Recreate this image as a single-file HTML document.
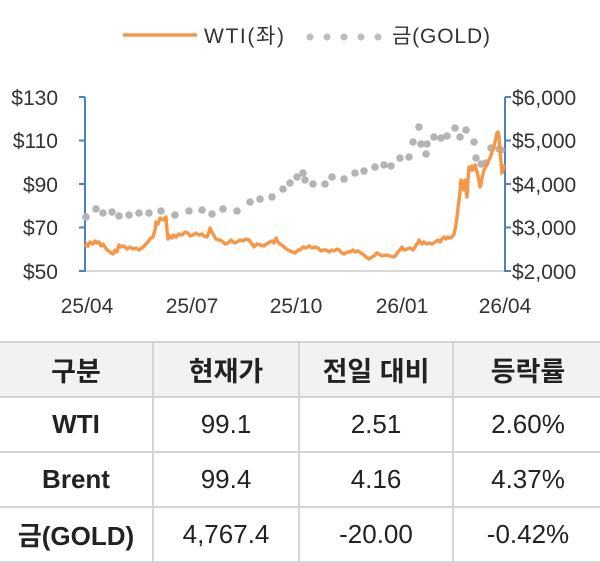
<!DOCTYPE html>
<html><head><meta charset="utf-8"><style>
body{margin:0;width:600px;height:561px;background:#fff;overflow:hidden;font-family:"Liberation Sans","Noto Sans CJK KR",sans-serif;}
svg{position:absolute;left:0;top:0}
table{position:absolute;left:-2px;top:341px;border-collapse:collapse;table-layout:fixed;width:604px}
td{border:2px solid #d4d4d4;height:53px;padding:0;text-align:center;font-size:26px;color:#222;}
tr.h td{background:#f2f2f2;font-weight:bold;font-size:27px;color:#222}
td.l{font-weight:bold}
</style></head><body>
<svg width="600" height="340" font-family="Liberation Sans, Noto Sans CJK KR, sans-serif" fill="#333">
<line x1="123" y1="35" x2="197" y2="35" stroke="#f79646" stroke-width="3.5"/>
<text x="204" y="43" font-size="21" fill="#333" textLength="80">WTI(좌)</text>
<g fill="#bcbcbc"><circle cx="310" cy="37" r="3.5"/><circle cx="327" cy="37" r="3.5"/><circle cx="344" cy="37" r="3.5"/><circle cx="361" cy="37" r="3.5"/><circle cx="378" cy="37" r="3.5"/></g>
<text x="392" y="43" font-size="21" fill="#333" textLength="98">금(GOLD)</text>
<line x1="85" y1="271" x2="505" y2="271" stroke="#d9d9d9" stroke-width="2"/>
<g stroke="#4f81bd" stroke-width="2"><line x1="85" y1="97" x2="85" y2="272"/><line x1="505" y1="97" x2="505" y2="272"/>
<path d="M79 97h6M79 140.5h6M79 184h6M79 227.5h6M79 271h6M505 97h6M505 140.5h6M505 184h6M505 227.5h6M505 271h6"/></g>
<g font-size="21" text-anchor="end"><text x="58" y="105">$130</text><text x="58" y="148">$110</text><text x="58" y="192">$90</text><text x="58" y="235">$70</text><text x="58" y="279">$50</text></g>
<g font-size="21"><text x="512" y="105">$6,000</text><text x="512" y="148">$5,000</text><text x="512" y="192">$4,000</text><text x="512" y="235">$3,000</text><text x="512" y="279">$2,000</text></g>
<g font-size="21" text-anchor="middle"><text x="87" y="313">25/04</text><text x="192" y="313">25/07</text><text x="296" y="313">25/10</text><text x="402" y="313">26/01</text><text x="505" y="313">26/04</text></g>
<g fill="#b4b4b4">
<circle cx="86" cy="217" r="3.8"/><circle cx="96" cy="209" r="3.8"/><circle cx="103" cy="213" r="3.8"/><circle cx="112" cy="212" r="3.8"/><circle cx="119" cy="216" r="3.8"/><circle cx="129" cy="215" r="3.8"/><circle cx="139" cy="213" r="3.8"/><circle cx="149" cy="213" r="3.8"/><circle cx="161" cy="211" r="3.8"/><circle cx="175" cy="215" r="3.8"/><circle cx="189" cy="211" r="3.8"/><circle cx="202" cy="210" r="3.8"/><circle cx="212" cy="214" r="3.8"/><circle cx="223" cy="209" r="3.8"/><circle cx="237" cy="211" r="3.8"/><circle cx="250" cy="202" r="3.8"/><circle cx="260" cy="199" r="3.8"/><circle cx="272" cy="197" r="3.8"/><circle cx="283" cy="189" r="3.8"/><circle cx="290" cy="183" r="3.8"/><circle cx="297" cy="177" r="3.8"/><circle cx="303" cy="173" r="3.8"/><circle cx="305" cy="180" r="3.8"/><circle cx="313" cy="184" r="3.8"/><circle cx="325" cy="184" r="3.8"/><circle cx="332" cy="177" r="3.8"/><circle cx="344" cy="179" r="3.8"/><circle cx="355" cy="173" r="3.8"/><circle cx="364" cy="171" r="3.8"/><circle cx="375" cy="167" r="3.8"/><circle cx="384" cy="165" r="3.8"/><circle cx="391" cy="166" r="3.8"/><circle cx="400" cy="158" r="3.8"/><circle cx="409" cy="157" r="3.8"/><circle cx="413" cy="142" r="3.8"/><circle cx="419" cy="127" r="3.8"/><circle cx="421" cy="144" r="3.8"/><circle cx="426" cy="154" r="3.8"/><circle cx="427" cy="144" r="3.8"/><circle cx="434" cy="137" r="3.8"/><circle cx="441" cy="138" r="3.8"/><circle cx="447" cy="136" r="3.8"/><circle cx="455" cy="128" r="3.8"/><circle cx="460" cy="137" r="3.8"/><circle cx="466" cy="130" r="3.8"/><circle cx="474" cy="142" r="3.8"/><circle cx="476" cy="158" r="3.8"/><circle cx="481" cy="164" r="3.8"/><circle cx="486" cy="163" r="3.8"/><circle cx="491" cy="148" r="3.8"/><circle cx="499" cy="149" r="3.8"/><circle cx="501" cy="150" r="3.8"/>
</g>
<polyline fill="none" stroke="#f79646" stroke-width="3.4" stroke-linejoin="round" points="85,247 87,244 88,246 90,242 93,244 95,241 97,243 99,242 101,246 103,244 105,247 107,250 109,251 111,253 113,254 115,250 117,252 119,245 121,247 124,246 127,249 130,247 133,249 136,248 139,250 142,248 144,246 146,244 148,242 149,240 151,238 153,237 155,230 156,222 158,224 160,218 163,220 166,217 167,230 168,239 170,236 172,238 174,235 176,237 179,234 182,235 185,232 188,233 190,236 193,235 196,233 199,235 202,234 204,236 207,237 209,232 210,228 213,234 216,239 219,240 222,241 225,244 228,243 231,240 233,242 235,243 237,242 240,240 243,241 246,239 249,240 252,244 254,247 257,244 260,245 264,246 268,243 272,241 274,243 276,238 278,242 280,244 283,246 285,248 288,250 290,251 293,252 295,253 298,250 300,250 303,247 306,248 309,246 312,248 315,247 318,248 321,251 323,250 326,250 329,252 332,250 334,251 337,249 339,250 342,253 344,254 347,252 350,252 353,250 355,252 358,251 361,253 364,255 366,257 369,259 372,257 374,256 377,253 379,254 382,256 386,255 390,256 394,257 396,255 398,252 400,250 402,247 404,250 407,249 410,248 413,250 415,247 416,245 418,243 419,240 422,244 424,242 427,244 429,243 432,244 435,242 438,240 440,242 442,239 444,237 446,239 448,237 450,238 452,237 454,234 455,230 456,224 457,217 458,208 459,200 460,192 461,180 462,186 463,182 464,190 465,180 466,190 467,197 468,180 469,167 471,170 472,166 473,170 475,165 477,172 478,176 480,187 481,184 482,178 483,174 484,170 486,166 487,164 489,160 490,158 491,155 492,152 494,147 495,142 496,138 497,133 498,132 499,137 500,150 501,162 502,173 503,170 504,166 505,165"/>
</svg>
<table>
<colgroup><col style="width:154px"><col style="width:146px"><col style="width:154px"><col style="width:150px"></colgroup>
<tr class="h"><td>구분</td><td>현재가</td><td>전일 대비</td><td>등락률</td></tr>
<tr><td class="l">WTI</td><td>99.1</td><td>2.51</td><td>2.60%</td></tr>
<tr><td class="l">Brent</td><td>99.4</td><td>4.16</td><td>4.37%</td></tr>
<tr><td class="l">금(GOLD)</td><td>4,767.4</td><td>-20.00</td><td>-0.42%</td></tr>
</table>
</body></html>
